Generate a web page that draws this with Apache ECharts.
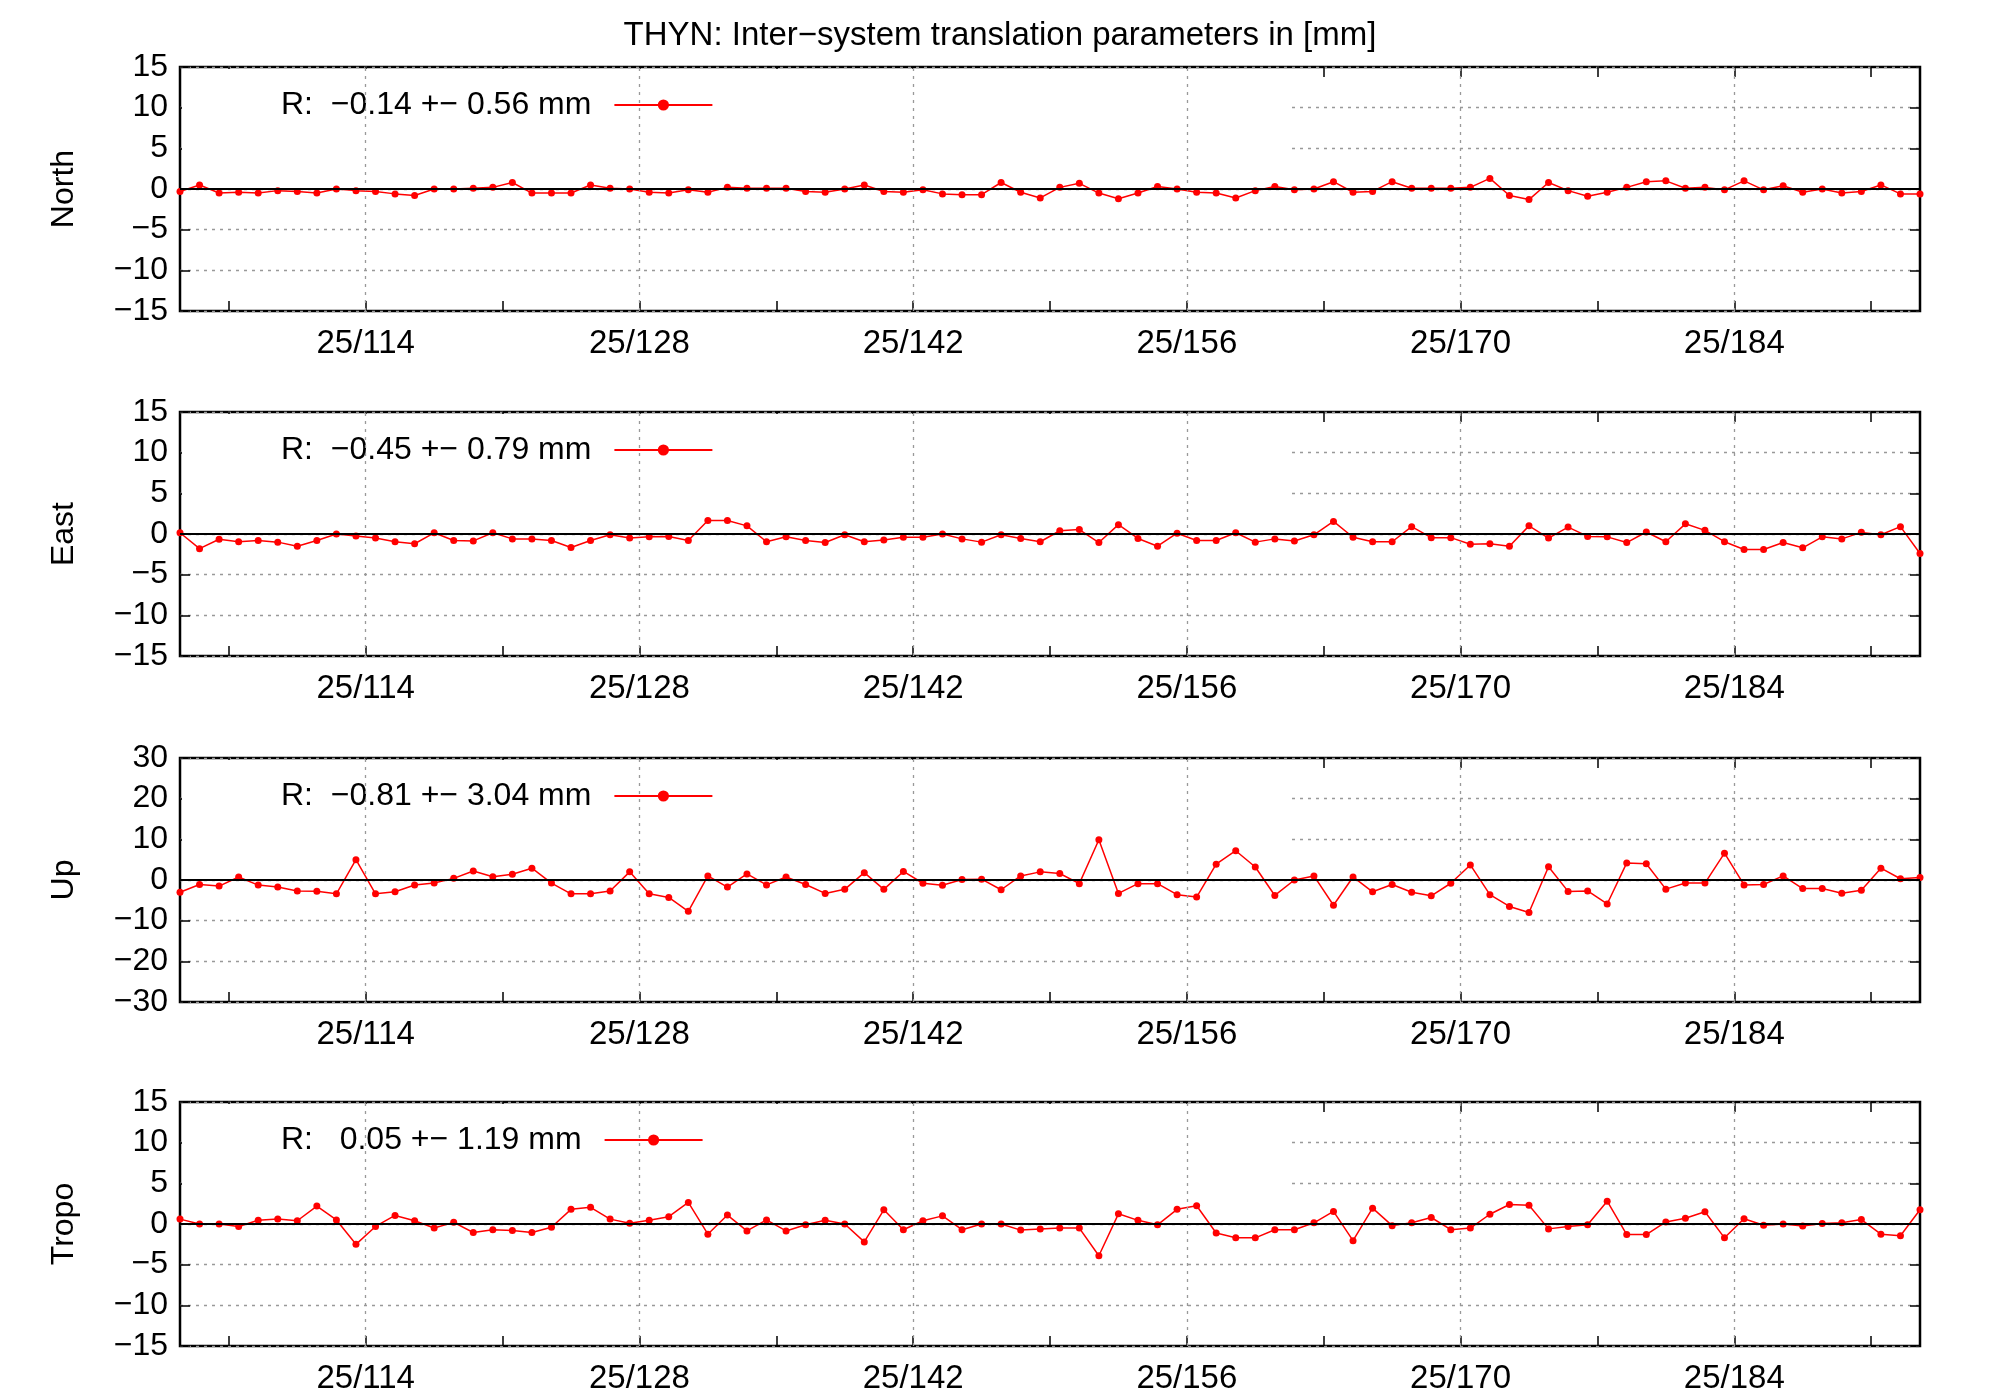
<!DOCTYPE html>
<html>
<head>
<meta charset="utf-8">
<script src="https://cdn.jsdelivr.net/npm/echarts@6/dist/echarts.min.js"></script>
<style>
html, body { margin: 0; padding: 0; background: #fff; }
#chart { width: 2000px; height: 1400px; }
</style>
</head>
<body>
<div id="chart"></div>
<script>
// day of year (25/ddd) of the first solution, one point per day
var firstDay = 104.5;
var labelDays = [114, 128, 142, 156, 170, 184];
var tickDays = [107, 114, 121, 128, 135, 142, 149, 156, 163, 170, 177, 184, 191];

var panelNames = ['North', 'East', 'Up', 'Tropo'];
var legendTexts = ['R:  \u22120.14 +\u2212 0.56 mm', 'R:  \u22120.45 +\u2212 0.79 mm',
	'R:  \u22120.81 +\u2212 3.04 mm', 'R:   0.05 +\u2212 1.19 mm'];
var yLimits = [15, 15, 30, 15];

var north = [-0.3, 0.5, -0.5, -0.4, -0.5, -0.2, -0.3, -0.5, 0, -0.2,
	-0.3, -0.6, -0.8, 0, 0, 0.1, 0.2, 0.8, -0.5, -0.5,
	-0.5, 0.5, 0.1, 0, -0.4, -0.5, -0.1, -0.4, 0.2, 0.1,
	0.1, 0.1, -0.3, -0.4, 0, 0.5, -0.3, -0.4, -0.1, -0.6,
	-0.7, -0.7, 0.8, -0.4, -1.1, 0.2, 0.7, -0.5, -1.2, -0.5,
	0.3, 0, -0.4, -0.5, -1.1, -0.2, 0.3, -0.1, 0, 0.9,
	-0.4, -0.3, 0.9, 0.1, 0.1, 0.1, 0.2, 1.3, -0.8, -1.3,
	0.8, -0.2, -0.9, -0.4, 0.2, 0.9, 1.0, 0.1, 0.2, -0.1,
	1.0, -0.1, 0.4, -0.4, 0, -0.5, -0.3, 0.5, -0.6, -0.6];
var east = [0.15, -1.8, -0.65, -0.95, -0.8, -1.0, -1.5, -0.8, 0, -0.25,
	-0.5, -0.95, -1.2, 0.15, -0.8, -0.85, 0.15, -0.6, -0.6, -0.8,
	-1.65, -0.8, -0.1, -0.5, -0.35, -0.3, -0.8, 1.65, 1.65, 1.0,
	-0.95, -0.35, -0.8, -1.05, -0.1, -0.95, -0.75, -0.4, -0.4, 0,
	-0.6, -1.0, -0.1, -0.55, -0.95, 0.4, 0.55, -1.05, 1.15, -0.55,
	-1.5, 0.1, -0.8, -0.8, 0.15, -1.0, -0.6, -0.85, -0.1, 1.55,
	-0.4, -0.95, -0.95, 0.9, -0.45, -0.45, -1.25, -1.2, -1.5, 1.0,
	-0.5, 0.85, -0.3, -0.35, -1.05, 0.25, -0.95, 1.25, 0.45, -0.95,
	-1.9, -1.9, -1.05, -1.7, -0.35, -0.6, 0.2, -0.1, 0.9, -2.4];
var up = [-3.0, -1.1, -1.5, 0.75, -1.25, -1.7, -2.7, -2.75, -3.4, 5.0,
	-3.4, -2.9, -1.25, -0.75, 0.4, 2.2, 0.8, 1.4, 2.9, -0.75,
	-3.4, -3.4, -2.7, 2.0, -3.4, -4.3, -7.7, 1.0, -1.75, 1.5,
	-1.2, 0.75, -1.1, -3.3, -2.3, 1.8, -2.3, 2.1, -0.8, -1.3,
	0.1, 0.2, -2.4, 1.0, 2.0, 1.6, -0.9, 9.9, -3.3, -0.9,
	-0.9, -3.6, -4.2, 3.9, 7.2, 3.2, -3.8, 0, 1.0, -6.2,
	0.75, -2.9, -1.1, -3.0, -3.9, -0.8, 3.7, -3.6, -6.5, -8.0,
	3.25, -2.8, -2.7, -5.9, 4.2, 4.0, -2.25, -0.75, -0.75, 6.6,
	-1.2, -1.1, 1.0, -2.1, -2.1, -3.25, -2.5, 2.9, 0.3, 0.6];
var tropo = [0.6, 0, 0, -0.3, 0.45, 0.6, 0.4, 2.2, 0.5, -2.5,
	-0.3, 1.05, 0.4, -0.5, 0.2, -1.05, -0.7, -0.8, -1.05, -0.4,
	1.8, 2.05, 0.6, 0.1, 0.45, 0.9, 2.65, -1.25, 1.1, -0.85,
	0.5, -0.85, -0.1, 0.45, 0, -2.2, 1.75, -0.7, 0.4, 1.0,
	-0.7, 0, 0, -0.75, -0.6, -0.5, -0.5, -3.9, 1.25, 0.45,
	-0.1, 1.8, 2.25, -1.1, -1.7, -1.7, -0.7, -0.7, 0.15, 1.55,
	-2.05, 1.95, -0.2, 0.15, 0.8, -0.7, -0.5, 1.2, 2.4, 2.3,
	-0.6, -0.3, -0.1, 2.8, -1.3, -1.3, 0.25, 0.7, 1.5, -1.7,
	0.65, -0.15, 0, -0.25, 0.05, 0.15, 0.55, -1.25, -1.45, 1.75];
var allValues = [north, east, up, tropo];

var gridTops = [67, 412, 758, 1102];
var gridLeft = 180, gridRight = 80, gridHeight = 244;
var fontName = 'Liberation Sans';

var grids = [], xAxes = [], yAxes = [], series = [], legends = [], graphics = [];

for (var k = 0; k < 4; k++) {
	var lim = yLimits[k];
	grids.push({
		left: gridLeft, right: gridRight, top: gridTops[k], height: gridHeight,
		show: true, borderColor: '#000', borderWidth: 2.5, backgroundColor: '#fff'
	});
	// bottom and top x axes
	for (var t = 0; t < 2; t++) {
		xAxes.push({
			type: 'value', gridIndex: k, min: firstDay, max: firstDay + 89,
			position: t == 0 ? 'bottom' : 'top',
			axisLine: { show: false, onZero: false },
			axisTick: { show: true, inside: true, length: 10, customValues: tickDays,
				lineStyle: { color: '#000', width: 1.5 } },
			axisLabel: { show: t == 0, customValues: labelDays, margin: 16,
				color: '#000', fontSize: 33, fontFamily: fontName,
				formatter: function (v) { return '25/' + v; } },
			splitLine: { show: false }
		});
	}
	// left and right y axes
	for (var t = 0; t < 2; t++) {
		yAxes.push({
			type: 'value', gridIndex: k, min: -lim, max: lim, interval: lim / 3,
			position: t == 0 ? 'left' : 'right',
			name: t == 0 ? panelNames[k] : '',
			nameLocation: 'middle', nameGap: 100, nameRotate: 90,
			nameTextStyle: { color: '#000', fontSize: 32, fontFamily: fontName },
			axisLine: { show: false, onZero: false },
			axisTick: { show: true, inside: true, length: 10, lineStyle: { color: '#000', width: 1.5 } },
			axisLabel: { show: t == 0, color: '#000', fontSize: 32, fontFamily: fontName, margin: 12,
				formatter: function (v) { return String(v).replace('-', '\u2212'); } },
			splitLine: { show: t == 0, lineStyle: { color: '#999', type: [3, 5], width: 1.3 } }
		});
	}
	// vertical grid lines at labelled days
	series.push({
		type: 'line', xAxisIndex: 2 * k, yAxisIndex: 2 * k, data: [], z: 0, silent: true,
		markLine: { symbol: 'none', silent: true, label: { show: false },
			lineStyle: { color: '#999', type: [3, 5], width: 1.3 },
			data: labelDays.map(function (d) { return { xAxis: d }; }) }
	});
	// zero line
	series.push({
		type: 'line', xAxisIndex: 2 * k, yAxisIndex: 2 * k, data: [], z: 2, silent: true,
		markLine: { symbol: 'none', silent: true, label: { show: false },
			lineStyle: { color: '#000', type: 'solid', width: 2 },
			data: [{ yAxis: 0 }] }
	});
	var pts = allValues[k].map(function (v, i) { return [firstDay + i, v]; });
	series.push({
		name: legendTexts[k], type: 'line', xAxisIndex: 2 * k, yAxisIndex: 2 * k,
		data: pts, z: 3, symbol: 'circle', symbolSize: 7, showSymbol: true,
		itemStyle: { color: '#ff0000' }, lineStyle: { color: '#ff0000', width: 1.5 },
		animation: false
	});
	legends.push({
		data: [legendTexts[k]], left: 276, top: gridTops[k] + 17, align: 'right',
		itemWidth: 98, itemHeight: 14, selectedMode: false,
		textStyle: { color: '#000', fontSize: 32, fontFamily: fontName, padding: [0, 18, 0, 0] }
	});
	// white key box hiding the grid behind the key
	graphics.push({
		type: 'rect', z: 1, silent: true,
		shape: { x: gridLeft + 2, y: gridTops[k] + 2, width: 1107, height: 84 },
		style: { fill: '#fff' }
	});
}

var chart = echarts.init(document.getElementById('chart'));
chart.setOption({
	animation: false,
	backgroundColor: '#fff',
	title: { text: 'THYN: Inter\u2212system translation parameters in [mm]', left: 'center', top: 14,
		textStyle: { color: '#000', fontSize: 33, fontWeight: 'normal', fontFamily: fontName } },
	grid: grids,
	xAxis: xAxes,
	yAxis: yAxes,
	legend: legends,
	graphic: graphics,
	series: series
});
</script>
</body>
</html>
